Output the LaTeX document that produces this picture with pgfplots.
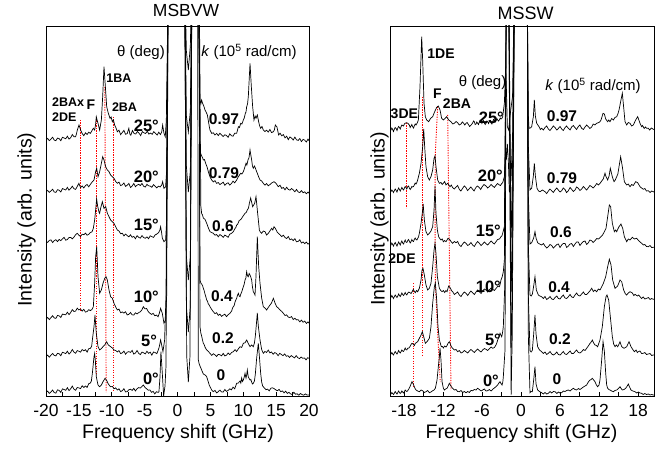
\documentclass[border=0pt]{standalone}
\usepackage{fontspec}
\setmainfont{Liberation Sans}
\usepackage{pgfplots}
\pgfplotsset{compat=1.18}
\newcommand{\fs}[1]{\fontsize{#1}{#1}\selectfont}
\begin{document}
\begin{tikzpicture}[x=1pt,y=1pt]
\useasboundingbox (0,0) rectangle (668,450);
\tikzset{
  ang/.style={anchor=east, inner sep=0pt, font=\bfseries\fs{16.5}},
  kv/.style={inner sep=0pt, font=\bfseries\fs{15.5}},
  md/.style={inner sep=0pt, font=\bfseries\fs{12.5}},
  mdr/.style={inner sep=0pt, font=\bfseries\fs{14}},
}
\pgfplotsset{
  spec/.style={black, line width=0.7pt, no marks},
  rl/.style={color={rgb,1:red,1;green,0;blue,0}, line width=0.9pt, dash pattern=on 1.2pt off 1.3pt, no marks},
  common/.style={
    scale only axis, width=263pt, height=370pt, anchor=south west,
    ymin=0, ymax=370, ytick=\empty,
    xtick pos=left, tick align=inside,
    minor x tick num=1,
    major tick length=4pt, minor tick length=4pt,
    tick style={black, line width=0.6pt},
    axis line style={line width=0.8pt},
    xticklabel style={font=\fs{17.5}},
    xticklabel shift=5pt,
    clip mode=individual,
  }
}
% ================= LEFT PANEL: MSBVW =================
\begin{axis}[common, at={(46pt,54pt)},
  xmin=-20, xmax=20,
  xtick={-20,-15,-10,-5,0,5,10,15,20},
  xticklabels={-20,-15,-10,-5,0,5,10,15,20}]
\addplot[rl] coordinates {(-14.83,276) (-14.83,84)};
\addplot[rl] coordinates {(-12.35,278) (-12.35,21)};
\addplot[rl] coordinates {(-11.05,309) (-10.85,4)};
\addplot[rl] coordinates {(-9.76,279) (-9.76,6)};
% 25 deg
\addplot[spec] coordinates {(-20,256) (-19.75,257.6) (-19.5,255.3) (-19.25,256.9) (-19,258.8) (-18.75,255.9) (-18.5,255.3) (-18.25,257.9) (-18,257.4) (-17.75,255.3) (-17.5,258.7) (-17.25,258) (-17,257.2) (-16.75,259.8) (-16.5,256.9) (-16.25,258.3) (-16,261.5) (-15.75,259.3) (-15.5,259.2) (-15.35,262.5) (-15.24,266) (-14.98,271) (-14.73,266) (-14.5,262.5) (-14.25,260.3) (-14,263.2) (-13.75,261.5) (-13.5,263.8) (-13.25,262.6) (-13,265.5) (-12.8,267.7) (-12.6,266) (-12.45,272) (-12.35,279.3) (-12.19,275) (-12.09,272.7) (-11.84,266) (-11.58,276) (-11.38,299.3) (-11.18,329.3) (-10.97,309.3) (-10.77,289.3) (-10.52,282.7) (-10.26,277.7) (-10.1,279) (-9.91,274.3) (-9.75,276) (-9.56,271) (-9.35,268) (-9.15,264.3) (-8.9,265.8) (-8.65,261.4) (-8.4,263.5) (-8.15,265.6) (-7.9,261.7) (-7.65,262.4) (-7.4,267.7) (-7.25,262) (-7.1,260.8) (-6.85,265.5) (-6.6,262.4) (-6.35,262) (-6.1,264.6) (-5.85,262.8) (-5.6,260.4) (-5.35,264.4) (-5.1,263.2) (-4.85,262.5) (-4.6,264.8) (-4.35,261.9) (-4.1,262.9) (-3.85,261.7) (-3.6,264.4) (-3.35,262.6) (-3.1,260.9) (-2.85,263.8) (-2.6,261.5) (-2.4,264) (-2.26,271) (-2.06,262.7) (-1.86,259.3) (-1.7,276) (-1.4,420) (1.1,420) (1.35,345) (1.65,326) (1.95,350) (2.2,420) (3.15,420) (3.42,296) (3.55,292) (3.67,296) (3.8,293) (3.93,291) (4.05,289) (4.18,286) (4.35,284) (4.54,281) (4.7,275) (4.82,270) (4.94,266) (5.2,262.6) (5.45,263.2) (5.7,261) (5.95,262.6) (6.2,260.4) (6.45,262.8) (6.7,261.1) (6.95,259.5) (7.2,261.3) (7.45,260.5) (7.7,258.6) (7.95,262.2) (8.2,260.3) (8.45,259.8) (8.7,262.8) (9,262.7) (9.13,266) (9.26,269.3) (9.43,268.5) (9.61,272.7) (9.8,272) (10.01,276) (10.15,278) (10.32,282.7) (10.42,284) (10.52,289.3) (10.65,292) (10.77,299.3) (11.03,332.7) (11.23,309.3) (11.43,289.3) (11.63,276) (11.8,280) (11.94,277.7) (12.14,281) (12.34,274.3) (12.5,270) (12.65,267.7) (12.85,269.5) (13.05,266) (13.3,264.5) (13.55,265.8) (13.8,263.9) (14.05,266.5) (14.3,263.4) (14.58,264.3) (14.73,266) (14.88,271) (15.13,269) (15.38,261) (15.6,262.8) (15.85,260.2) (16.1,261.4) (16.35,258.1) (16.6,259.8) (16.85,256.4) (17.1,259.1) (17.35,257.8) (17.6,256) (17.85,258.9) (18.1,256.2) (18.35,255.6) (18.6,257.4) (18.85,254.4) (19.1,256.6) (19.35,255.8) (19.6,254) (19.85,256.9) (20,255.3)};
% 20 deg
\addplot[spec] coordinates {(-20,204.3) (-19.75,205.6) (-19.5,203.6) (-19.25,205.1) (-19,206.8) (-18.75,204) (-18.5,203.6) (-18.25,206.3) (-18,205.8) (-17.75,204) (-17.5,207.4) (-17.25,206.8) (-17,206) (-16.75,208.6) (-16.5,205.8) (-16.25,207.5) (-16,209.8) (-15.75,207.3) (-15.5,206.6) (-15.25,209.5) (-15,212.7) (-14.75,208.4) (-14.5,210.1) (-14.25,208) (-14,210.4) (-13.75,211.5) (-13.5,209.2) (-13.25,211.6) (-13,213.8) (-12.7,216) (-12.45,224.3) (-12.29,227.7) (-12.09,219.3) (-11.84,224.3) (-11.58,232.7) (-11.38,239.3) (-11.18,236) (-10.92,229.3) (-10.67,226) (-10.42,224.3) (-10.17,221) (-9.91,219.3) (-9.66,217.7) (-9.4,214.5) (-9.15,212.7) (-8.9,213.9) (-8.65,210.4) (-8.4,211.2) (-8.15,213) (-7.9,209.6) (-7.65,210.8) (-7.4,212.6) (-7.15,208.5) (-6.9,209.9) (-6.65,212.5) (-6.4,209.3) (-6.15,210.8) (-5.9,211.7) (-5.65,210.4) (-5.4,212.6) (-5.15,209.7) (-4.9,208.9) (-4.65,211.7) (-4.4,210.2) (-4.15,209.9) (-3.9,208.7) (-3.65,211.4) (-3.4,209.6) (-3.15,208.1) (-2.9,209.8) (-2.65,209) (-2.4,211) (-2.26,214.3) (-2.06,207.7) (-1.81,209.3) (-1.65,225) (-1.4,420) (1.1,420) (1.35,280) (1.65,264) (1.95,285) (2.2,420) (3.15,420) (3.42,246) (3.55,242) (3.67,240) (3.8,238.5) (3.93,236) (4.1,236.5) (4.28,232.7) (4.5,229) (4.69,224.3) (4.95,219) (5.2,216) (5.45,214.1) (5.7,215.3) (5.95,212.6) (6.2,213.5) (6.45,211.4) (6.7,212.6) (6.95,213.8) (7.2,210.7) (7.45,212.4) (7.7,213.2) (7.95,210.9) (8.2,212.4) (8.45,214.9) (8.7,213.2) (9,216) (9.26,219.3) (9.43,221) (9.61,222.7) (9.8,222) (10.01,224.3) (10.2,228) (10.42,232.7) (10.55,231) (10.72,236) (10.87,238) (11.03,246) (11.15,241) (11.28,236) (11.4,230) (11.53,227.7) (11.7,230) (11.84,228) (12,225) (12.14,222.7) (12.35,219) (12.55,216) (12.8,215) (13.05,212.7) (13.3,210.9) (13.55,212.4) (13.8,210.2) (14.07,211.5) (14.35,213.1) (14.68,214.3) (14.98,212.7) (15.33,209.3) (15.6,210.8) (15.85,207.6) (16.1,208.5) (16.35,206.2) (16.6,208.8) (16.85,206.6) (17.1,205.9) (17.35,207.5) (17.6,206.1) (17.85,204.2) (18.1,206.6) (18.35,204.1) (18.6,203.4) (18.85,205.4) (19.1,203.3) (19.35,204.1) (19.6,202.3) (19.85,204) (20,202.7)};
% 15 deg
\addplot[spec] coordinates {(-20,154.3) (-19.75,153.6) (-19.5,155.6) (-19.25,156.1) (-19,153.5) (-18.75,155.3) (-18.5,156.3) (-18.25,154.4) (-18,156.6) (-17.75,155.3) (-17.5,157.2) (-17.25,158.6) (-17,155.8) (-16.75,156.5) (-16.5,158.5) (-16.25,158.6) (-16,157.1) (-15.75,158.9) (-15.5,161.3) (-15.25,162.7) (-15,160.8) (-14.75,159.5) (-14.5,161.8) (-14.25,161.3) (-14,162.9) (-13.75,160.8) (-13.5,161.7) (-13.25,163.5) (-13,164.2) (-12.8,167.7) (-12.6,176) (-12.45,186) (-12.3,197) (-12.15,190) (-11.94,184) (-11.84,182.7) (-11.68,188) (-11.43,194.3) (-11.18,187.7) (-10.92,189.3) (-10.67,182.7) (-10.42,179.3) (-10.17,176) (-9.91,174.3) (-9.66,172.7) (-9.4,169.3) (-9.15,166) (-8.9,165) (-8.65,162.2) (-8.4,162.8) (-8.15,160.1) (-7.9,161.9) (-7.65,160.4) (-7.4,159.2) (-7.15,161.2) (-6.9,158.7) (-6.65,159.6) (-6.4,157.3) (-6.15,160.3) (-5.9,158.6) (-5.65,157.9) (-5.4,160.4) (-5.15,158.5) (-4.9,157.7) (-4.65,159.1) (-4.4,157.3) (-4.15,160.2) (-3.9,159.4) (-3.65,158.6) (-3.4,161.1) (-3.15,161.9) (-2.9,163.2) (-2.7,165.5) (-2.57,169.3) (-2.41,163) (-2.31,158) (-2.06,154.3) (-1.81,156) (-1.65,175) (-1.4,420) (1.1,420) (1.35,230) (1.65,204) (1.95,225) (2.2,420) (3.3,420) (3.55,190) (3.67,182.7) (3.8,181) (3.93,178) (4.2,176.5) (4.44,172.7) (4.7,168) (4.94,164.3) (5.2,163.5) (5.45,162.7) (5.7,160.8) (5.95,161.5) (6.2,159.2) (6.45,161.4) (6.7,160.3) (6.95,158.6) (7.2,160.9) (7.45,159.9) (7.7,158.7) (7.95,161.8) (8.2,162.6) (8.49,164.3) (8.62,166) (8.75,167.5) (8.87,168.5) (9,171) (9.13,171.5) (9.26,173.5) (9.38,175.5) (9.51,176) (9.7,177) (9.91,179.3) (10.1,181) (10.27,182.7) (10.45,183.5) (10.62,186) (10.8,188) (10.93,192.7) (11.13,198) (11.43,189.3) (11.74,192.7) (11.94,199.3) (12.19,182.7) (12.45,166) (12.6,164) (12.8,162.7) (13.05,165) (13.31,164.3) (13.55,161) (13.81,162.7) (14.05,165) (14.32,167.7) (14.5,166) (14.68,169.3) (14.83,168) (14.98,166.5) (15.15,164) (15.33,162.7) (15.6,161.2) (15.85,159.4) (16.1,160.8) (16.35,158.5) (16.6,157.5) (16.85,159.4) (17.1,156.3) (17.35,157.1) (17.6,155.4) (17.85,157.3) (18.1,154.2) (18.35,154.6) (18.6,156.3) (18.85,153) (19.1,154.1) (19.35,152.4) (19.6,153.9) (19.85,151.8) (20,152.7)};
% 10 deg
\addplot[spec] coordinates {(-20,76.7) (-19.75,78.5) (-19.5,76.4) (-19.25,78.3) (-19,80.3) (-18.75,78.1) (-18.5,77.6) (-18.25,80.6) (-18,80.1) (-17.75,78.5) (-17.5,81.9) (-17.25,81.5) (-17,81.2) (-16.75,83.8) (-16.5,81.4) (-16.25,83.4) (-16,86.4) (-15.75,84.5) (-15.5,84.9) (-15.25,87.8) (-15,86.1) (-14.75,86.9) (-14.5,84.9) (-14.25,86.6) (-14,83.9) (-13.75,84.5) (-13.5,86.3) (-13.25,85.4) (-13,86.6) (-12.8,89.3) (-12.6,112.7) (-12.45,139.3) (-12.29,149.3) (-12.09,119.3) (-11.84,102.7) (-11.58,106) (-11.33,112.7) (-11.07,117.7) (-10.87,119.3) (-10.67,116) (-10.42,106) (-10.17,99.3) (-9.91,97.7) (-9.66,92.7) (-9.4,89) (-9.15,86) (-8.9,86.9) (-8.65,83.3) (-8.4,84.1) (-8.15,82.9) (-7.9,84.3) (-7.65,81.1) (-7.4,81.6) (-7.15,83.5) (-6.9,81.2) (-6.65,80.9) (-6.4,83.2) (-6.15,82.1) (-5.9,83.4) (-5.65,84.2) (-5.4,86.3) (-5.2,89.3) (-4.95,87.2) (-4.7,87.5) (-4.45,84.5) (-4.2,82.8) (-3.95,81.6) (-3.7,82.6) (-3.45,80.2) (-3.2,80.9) (-2.95,79.3) (-2.75,83) (-2.57,87.7) (-2.31,82.7) (-2.06,72.7) (-1.81,76) (-1.65,100) (-1.4,420) (1.1,420) (1.35,140) (1.65,116) (1.95,140) (2.2,420) (3.3,420) (3.42,116) (3.55,113) (3.67,112) (3.8,110.5) (3.93,107.7) (4.05,105.5) (4.18,102) (4.3,99.5) (4.44,96) (4.55,95) (4.69,92) (4.82,91) (4.94,89.3) (5.2,86.5) (5.45,84.3) (5.7,82.4) (5.95,83.3) (6.2,80.6) (6.45,81.8) (6.7,79.6) (6.95,80.9) (7.2,81.8) (7.45,79.4) (7.7,81.3) (7.95,82.5) (8.24,85) (8.37,88) (8.49,89.3) (8.62,90.5) (8.75,94) (8.87,96) (9,97.7) (9.13,101) (9.26,102.7) (9.38,100) (9.51,99.3) (9.63,102) (9.76,104) (9.88,106.5) (10.01,109.3) (10.15,112) (10.27,116) (10.4,118) (10.52,124.3) (10.65,120) (10.77,119.3) (10.9,122.5) (11.03,121) (11.15,119) (11.28,116) (11.4,109) (11.53,104.3) (11.65,103) (11.79,101) (11.94,120) (12.14,159.3) (12.34,130) (12.55,112.7) (12.8,98) (13.05,89.3) (13.3,88) (13.56,86) (13.8,88.5) (14.07,91) (14.3,93) (14.58,97.7) (14.83,93) (15.08,89.3) (15.33,88) (15.59,86) (15.85,84.6) (16.1,82.7) (16.35,80.5) (16.6,81.1) (16.85,78.9) (17.1,78.5) (17.35,79.4) (17.6,76.5) (17.85,77.7) (18.1,76.1) (18.35,76.3) (18.6,74.2) (18.85,75.9) (19.1,73.8) (19.35,74.9) (19.6,72.6) (19.85,74.2) (20,72.7)};
% 5 deg
\addplot[spec] coordinates {(-20,39.3) (-19.75,40.9) (-19.5,38.8) (-19.25,40.8) (-19,42.5) (-18.75,40.7) (-18.5,40.1) (-18.25,42.7) (-18,42.2) (-17.75,40.3) (-17.5,43.7) (-17.25,43.1) (-17,42.4) (-16.75,44.8) (-16.5,42) (-16.25,43.6) (-16,46.5) (-15.75,43.9) (-15.5,42.7) (-15.25,45.4) (-15,44.8) (-14.75,43.8) (-14.5,46.5) (-14.25,45.2) (-14,46.3) (-13.75,43.9) (-13.5,47.3) (-13.25,47.6) (-13.05,50) (-12.95,56) (-12.7,69.3) (-12.55,81) (-12.35,62.7) (-12.09,49.3) (-11.84,46) (-11.58,47.5) (-11.33,49.3) (-11.07,51) (-10.77,54.3) (-10.52,51) (-10.17,49.3) (-9.9,48) (-9.66,46) (-9.4,45.5) (-9.15,44.1) (-8.9,45.4) (-8.65,42.4) (-8.4,43.1) (-8.15,44.9) (-7.9,41.8) (-7.65,43.8) (-7.4,44.4) (-7.15,43.6) (-6.9,45.6) (-6.65,41.9) (-6.4,42.9) (-6.15,45.5) (-5.9,42.6) (-5.65,41.4) (-5.4,43.9) (-5.15,43.2) (-4.9,42.1) (-4.65,44.7) (-4.4,42.7) (-4.15,43.8) (-3.9,40.8) (-3.65,44) (-3.4,43.5) (-3.15,42.3) (-2.95,45.5) (-2.77,49.3) (-2.57,56) (-2.46,52.7) (-2.21,44.3) (-1.96,56) (-1.75,100) (-1.45,420) (1.1,420) (1.35,90) (1.65,64) (1.95,90) (2.2,420) (3.25,420) (3.42,69.3) (3.55,63) (3.67,60) (3.8,56) (3.93,52.7) (4.05,51.5) (4.18,49) (4.3,47.5) (4.44,46) (4.57,45.5) (4.69,44.5) (4.94,42.7) (5.2,40.6) (5.45,42.3) (5.7,41.1) (5.95,39.5) (6.2,41.7) (6.45,41.2) (6.7,40.2) (6.95,42.6) (7.2,40.1) (7.45,40.8) (7.7,43) (7.95,41.4) (8.24,43.5) (8.49,44.3) (8.75,46.3) (9,44.5) (9.26,47.2) (9.51,49.3) (9.76,48.6) (10.01,52.7) (10.27,53.2) (10.52,56) (10.77,52.5) (11.03,49.3) (11.28,51) (11.53,49.3) (11.7,53) (11.84,60) (12.04,75) (12.14,83) (12.29,70) (12.55,56) (12.8,46.5) (13.05,42.7) (13.3,44.5) (13.55,43.6) (13.8,45.9) (14.05,43.2) (14.3,44) (14.55,41.7) (14.8,43.4) (15.05,42.6) (15.3,40.3) (15.55,42.6) (15.8,41.5) (16.05,40.3) (16.3,42.1) (16.55,39.7) (16.8,40.3) (17.05,38.6) (17.3,40.5) (17.55,39.2) (17.8,38.1) (18.05,40.4) (18.3,38.3) (18.55,37.4) (18.8,39) (19.05,37.7) (19.3,38.1) (19.55,36.1) (19.8,38.3) (20,37.7)};
% 0 deg
\addplot[spec] coordinates {(-20,3.3) (-19.75,4.9) (-19.5,2.6) (-19.25,4) (-19,6) (-18.75,3.4) (-18.5,2.9) (-18.25,6.2) (-18,5.6) (-17.75,3.6) (-17.5,7.1) (-17.25,6.5) (-17,5.7) (-16.75,8.3) (-16.5,5.4) (-16.25,7.2) (-16,9.9) (-15.75,6.8) (-15.5,5.7) (-15.25,8.5) (-15,8.1) (-14.75,7.4) (-14.5,10.2) (-14.25,8.5) (-14,10) (-13.75,8.6) (-13.5,12.3) (-13.25,13) (-13.1,15) (-12.95,22.7) (-12.7,39.3) (-12.6,42.7) (-12.5,36) (-12.35,19.3) (-12.09,11) (-11.84,9.3) (-11.58,11) (-11.33,14.3) (-11.02,17.7) (-10.77,15.5) (-10.52,12) (-10.35,10.5) (-10.17,9.3) (-9.9,9.5) (-9.65,7.2) (-9.4,8.1) (-9.15,6) (-8.9,7.2) (-8.65,4.4) (-8.4,5.3) (-8.15,7.3) (-7.9,4.1) (-7.65,4.4) (-7.4,6.2) (-7.15,6.8) (-6.9,5.6) (-6.65,7.6) (-6.4,5.1) (-6.15,7.3) (-5.9,8.4) (-5.65,7.9) (-5.4,9.5) (-5.2,11) (-4.95,8.7) (-4.7,7.2) (-4.45,5.8) (-4.2,6.1) (-3.95,3.7) (-3.7,4.6) (-3.45,2.1) (-3.2,4.3) (-2.95,3.6) (-2.82,4.3) (-2.66,19.3) (-2.52,44.3) (-2.31,22.7) (-2.11,0) (-1.9,10) (-1.75,30) (-1.45,420) (1.1,420) (1.4,40) (1.65,14) (1.9,40) (2.15,420) (3.05,420) (3.17,36) (3.3,32) (3.42,30) (3.55,28) (3.67,26) (3.8,24) (3.93,22) (4.2,21) (4.44,19.3) (4.57,16.5) (4.69,14) (4.82,11) (4.94,9.3) (5.2,6) (5.45,4.4) (5.7,5.6) (5.95,3.1) (6.2,4.3) (6.45,5.9) (6.7,4.1) (6.95,3.9) (7.2,6.5) (7.45,4.6) (7.7,5.6) (7.95,7.2) (8.2,6.2) (8.45,8.9) (8.7,7.2) (9,12.7) (9.25,13) (9.51,15) (9.63,13) (9.76,18) (9.88,14.5) (10.01,16) (10.15,19) (10.27,22.7) (10.35,20) (10.42,18) (10.52,21) (10.62,26) (10.7,22) (10.77,19) (10.9,17.5) (11.03,16) (11.15,16.5) (11.28,14) (11.4,12) (11.53,12.7) (11.7,15) (11.84,22) (12.04,38) (12.29,52.7) (12.45,40) (12.65,22.7) (12.8,14) (12.95,10) (13.2,8.1) (13.45,6.3) (13.7,6.9) (13.95,5.2) (14.2,7.8) (14.45,8.2) (14.7,7.4) (14.95,6.1) (15.2,5.3) (15.45,6.6) (15.7,4.3) (15.95,5.1) (16.2,3.2) (16.45,4.8) (16.7,2.6) (16.95,3.7) (17.2,2.1) (17.45,1.5) (17.7,3.7) (17.95,1.8) (18.2,2.2) (18.45,0.8) (18.7,2.5) (18.95,1.4) (19.2,0.8) (19.45,2.1) (19.7,0.9) (20,1)};
\node[inner sep=0pt, font=\fs{15}] at (axis cs:-5.55,343) {θ (deg)};
\node[inner sep=0pt, font=\fs{15}] at (axis cs:10.87,344) {\textit{k} (10\textsuperscript{5} rad/cm)};
\node[ang] at (axis cs:-2.81,270) {25°};
\node[ang] at (axis cs:-2.81,219) {20°};
\node[ang] at (axis cs:-2.81,171) {15°};
\node[ang] at (axis cs:-2.81,99) {10°};
\node[ang] at (axis cs:-3.11,55.3) {5°};
\node[ang] at (axis cs:-2.81,17) {0°};
\node[kv] at (axis cs:7.07,277) {0.97};
\node[kv] at (axis cs:7.07,223) {0.79};
\node[kv] at (axis cs:6.92,170) {0.6};
\node[kv] at (axis cs:6.77,100) {0.4};
\node[kv] at (axis cs:6.92,58) {0.2};
\node[kv] at (axis cs:6.6,21) {0};
\node[md, anchor=west] at (axis cs:-19.09,294) {2BAx};
\node[md, anchor=west] at (axis cs:-19.09,279) {2DE};
\node[md, font=\bfseries\fs{14}] at (axis cs:-13.16,291) {F};
\node[md] at (axis cs:-8.9,318) {1BA};
\node[md] at (axis cs:-8.06,289) {2BA};
\end{axis}
% ================= RIGHT PANEL: MSSW =================
\begin{axis}[common, at={(390pt,54pt)}, width=264pt,
  xmin=-20.154, xmax=20.462,
  xtick={-18,-12,-6,0,6,12,18},
  xticklabels={-18,-12,-6,0,6,12,18}]
\addplot[rl] coordinates {(-17.58,273) (-17.58,188)};
\addplot[rl] coordinates {(-15.23,299) (-15.23,41)};
\addplot[rl] coordinates {(-12.82,289.3) (-13.18,243) (-13.23,196) (-13.18,113) (-12.82,63) (-12.42,14)};
\addplot[rl] coordinates {(-11.28,281) (-11.03,146) (-10.77,6)};
\addplot[rl] coordinates {(-16.57,113) (-16.57,10)};
% 25 deg
\addplot[spec] coordinates {(-20.2,266) (-20,266) (-19.87,268) (-19.75,266.5) (-19.62,264.5) (-19.49,266.7) (-19.35,268.5) (-19.2,267.5) (-19.08,265.5) (-18.97,267.7) (-18.83,269.5) (-18.7,268.5) (-18.58,267) (-18.46,269.3) (-18.33,271) (-18.2,270.5) (-18.07,270) (-17.95,272) (-17.77,273) (-17.59,273.3) (-17.38,272.5) (-17.18,271) (-17.05,268.5) (-16.92,270) (-16.8,271.5) (-16.67,269.3) (-16.53,268) (-16.4,270.5) (-16.27,272) (-16.15,271) (-15.97,273) (-15.79,276) (-15.54,309.3) (-15.33,349.3) (-15.28,359.3) (-15.13,336) (-14.92,292.7) (-14.72,279.3) (-14.51,276) (-14.21,274.3) (-13.9,277.7) (-13.59,279.3) (-13.28,284.3) (-12.97,288.7) (-12.72,290) (-12.46,286) (-12.21,277.7) (-11.95,276) (-11.69,277.5) (-11.44,279.3) (-11.13,276) (-10.77,274.3) (-10.5,272) (-10.26,272.7) (-10,274.5) (-9.74,273.3) (-9.5,271) (-9.23,272) (-9.03,274) (-8.85,273) (-8.65,271) (-8.46,272.7) (-8.28,273.5) (-8.1,271.5) (-7.9,269.5) (-7.69,271) (-7.55,272) (-7.44,273) (-7.3,275) (-7.18,274.3) (-7.05,271.5) (-6.92,272) (-6.8,274) (-6.67,272.7) (-6.54,271.5) (-6.41,274) (-6.28,276) (-6.15,275) (-6.02,272.5) (-5.9,274.3) (-5.77,275.5) (-5.64,273) (-5.51,271.5) (-5.38,272.7) (-5.25,275) (-5.13,274.5) (-5,272.5) (-4.87,274.3) (-4.73,275.5) (-4.6,273) (-4.48,272) (-4.36,274.3) (-4.23,276.5) (-4.1,275.5) (-3.97,274) (-3.85,275.3) (-3.72,277.5) (-3.59,276) (-3.46,275) (-3.33,276) (-3.2,278) (-3.08,277) (-2.95,277.5) (-2.82,279.3) (-2.56,292.7) (-2.36,329.3) (-2.26,310) (-2.1,269.3) (-1.9,266) (-1.69,280) (-1.3,300) (-1,420) (0.95,420) (1.13,280) (1.23,267.7) (1.44,268) (1.64,269.3) (1.9,279.3) (2.05,296) (2.21,280) (2.41,272.7) (2.6,271) (2.77,269.3) (2.98,266.5) (3.18,267.7) (3.44,266) (3.69,268.5) (3.95,270) (4.21,267) (4.46,265.5) (4.72,267.7) (4.97,270) (5.23,268.5) (5.5,266) (5.74,267.5) (6,269.5) (6.26,267) (6.5,265.5) (6.77,268.3) (7,270) (7.28,267.7) (7.55,266) (7.79,269) (8.05,270.5) (8.31,268.3) (8.55,266.5) (8.82,269.5) (9.07,271) (9.33,267.7) (9.6,266.5) (9.85,269) (10.1,271) (10.36,269.3) (10.6,267.5) (10.87,269) (11.1,272) (11.38,271) (11.64,272.7) (11.9,273.3) (12.1,274) (12.31,276) (12.62,282.7) (12.82,282) (13.03,277) (13.2,275.5) (13.33,274.3) (13.5,276) (13.69,274.3) (13.95,277.5) (14.21,276) (14.45,278.5) (14.72,279.3) (14.9,282) (15.08,286) (15.38,296) (15.59,302.7) (15.79,289) (16,274.3) (16.26,271) (16.5,273.5) (16.77,272.7) (17.02,270) (17.28,271) (17.64,276) (17.95,279.3) (18.31,272.7) (18.56,269.3) (18.7,270.5) (18.95,267.5) (19.15,269) (19.33,267.7) (19.59,267.7) (19.8,266) (20.05,268) (20.36,266.7) (20.46,266.5)};
% 20 deg
\addplot[spec] coordinates {(-20.2,204.3) (-20,204.3) (-19.87,206) (-19.75,205) (-19.62,203.5) (-19.49,205.3) (-19.35,207) (-19.2,205.5) (-19.08,204) (-18.97,206) (-18.83,208) (-18.7,206.5) (-18.58,205) (-18.46,206.7) (-18.33,208.5) (-18.2,207) (-18.07,206) (-17.95,207.7) (-17.82,209.5) (-17.7,208.5) (-17.57,207) (-17.44,209.3) (-17.3,210) (-17.18,208) (-17.05,206.5) (-16.92,207.7) (-16.8,209.5) (-16.67,209) (-16.54,209.5) (-16.41,211) (-16.28,213) (-16.15,212) (-16.02,213.5) (-15.9,216) (-15.64,222.7) (-15.38,232.7) (-15.13,249.3) (-14.97,267) (-14.82,249.3) (-14.62,229.3) (-14.36,219.3) (-14.1,216) (-13.85,219.3) (-13.59,226) (-13.38,237.7) (-13.23,240) (-13.08,229.3) (-12.82,216) (-12.56,212.7) (-12.31,213.5) (-12.12,211.5) (-11.95,212.7) (-11.75,214.5) (-11.54,211) (-11.28,212.7) (-11.1,211) (-10.92,209.3) (-10.72,211) (-10.51,208.3) (-10.25,207) (-10,209) (-9.75,210.5) (-9.49,206.7) (-9.25,205) (-9,207.5) (-8.73,210) (-8.46,208.3) (-8.23,205.5) (-8,207) (-7.72,209) (-7.44,206.7) (-7.22,205) (-7,208) (-6.7,210) (-6.41,208.3) (-6.2,206.5) (-6,209) (-5.7,211.5) (-5.38,210) (-5.13,208) (-4.87,209.5) (-4.6,211.5) (-4.36,210) (-4.1,208.5) (-3.85,210.7) (-3.6,212.5) (-3.33,211) (-3.15,210.5) (-2.97,212.5) (-2.82,213.3) (-2.56,219.3) (-2.46,236) (-2.36,248) (-2.26,236) (-2.1,252) (-1.95,235) (-1.79,204) (-1.54,216) (-1.3,260) (-1,420) (0.95,420) (1.13,250) (1.38,206) (1.64,207.7) (1.9,220) (2.05,232.7) (2.21,220) (2.46,207.7) (2.7,205) (2.92,204.3) (3.3,206) (3.69,204.3) (3.95,202.5) (4.21,205) (4.46,207) (4.72,205.3) (4.97,203.5) (5.23,206) (5.5,208) (5.74,206) (6,204) (6.26,205.3) (6.5,208) (6.77,206.5) (7,203.5) (7.28,205.3) (7.55,208.5) (7.79,206.7) (8.05,204.5) (8.31,206) (8.55,209) (8.82,207.7) (9.07,205.5) (9.33,207) (9.6,209.5) (9.85,207.7) (10.1,206) (10.36,208.3) (10.6,210.5) (10.87,209.3) (11.1,208) (11.38,210) (11.65,212.5) (11.9,211) (12.15,212.5) (12.41,215) (12.65,217) (12.92,222.7) (13.1,219) (13.33,216) (13.55,220) (13.74,227.7) (14.05,219.3) (14.31,214.3) (14.5,216) (14.72,219.3) (14.9,222) (15.08,229.3) (15.33,239.3) (15.59,229.3) (15.9,214.3) (16.26,211) (16.5,212) (16.77,209.3) (17.02,211.5) (17.28,210.5) (17.64,214.3) (17.95,213.3) (18.31,209.3) (18.55,208) (18.82,206.7) (19.05,207.5) (19.3,205) (19.59,205.3) (19.85,203.5) (20.1,205) (20.36,204.3) (20.46,204)};
% 15 deg
\addplot[spec] coordinates {(-20.2,151) (-20,151) (-19.87,153) (-19.75,151.5) (-19.62,150) (-19.49,152) (-19.35,153.5) (-19.2,151.5) (-19.08,150) (-18.97,151.7) (-18.83,154) (-18.7,152.5) (-18.58,151) (-18.46,153.3) (-18.33,155) (-18.2,153) (-18.07,152) (-17.95,154.3) (-17.82,156) (-17.7,154) (-17.57,153.5) (-17.44,155.3) (-17.3,156.5) (-17.18,155) (-17.05,153) (-16.92,154.3) (-16.8,156.5) (-16.67,155) (-16.54,154.5) (-16.41,156.7) (-16.28,158) (-16.15,156.5) (-16.02,156) (-15.9,157.5) (-15.77,159) (-15.64,162.7) (-15.38,172.7) (-15.13,186) (-15.05,192) (-14.87,176) (-14.62,164.3) (-14.36,161) (-14.1,162.7) (-13.85,165) (-13.59,169.3) (-13.38,186) (-13.23,210) (-13.08,182.7) (-12.87,166) (-12.67,159.3) (-12.5,157.5) (-12.31,156) (-12.12,157) (-11.95,154.3) (-11.75,155.5) (-11.54,154.3) (-11.38,156) (-11.23,157.7) (-11.08,157) (-10.92,156) (-10.72,154) (-10.51,152.7) (-10.25,154.5) (-10,153.3) (-9.75,154.5) (-9.49,151) (-9.23,149.5) (-8.98,152) (-8.72,154) (-8.46,152.7) (-8.2,150.5) (-7.95,151.5) (-7.7,153.5) (-7.44,151) (-7.18,149.5) (-6.92,152.5) (-6.67,154.5) (-6.41,152.7) (-6.15,150.5) (-5.9,152) (-5.64,154) (-5.38,152.3) (-5.13,151) (-4.87,153) (-4.6,155) (-4.36,153.3) (-4.1,152) (-3.85,154.3) (-3.6,156.5) (-3.33,157) (-3.2,158) (-3.08,159.3) (-2.95,160) (-2.82,162.7) (-2.56,169.3) (-2.25,420) (-1.9,420) (-1.52,158) (-1.35,200) (-1,420) (0.95,420) (1.13,200) (1.38,152) (1.64,153.3) (1.95,158) (2.15,164.3) (2.31,158) (2.56,153.3) (2.85,152) (3.18,151) (3.44,152.5) (3.69,150) (3.95,148) (4.21,149.3) (4.46,151.5) (4.72,150.5) (4.97,148) (5.23,149.7) (5.5,151.5) (5.75,152) (6,148.5) (6.26,151) (6.5,152.5) (6.77,152.5) (7.03,148.5) (7.28,150) (7.55,152) (7.8,152.5) (8.05,149.5) (8.31,152) (8.55,154) (8.82,154) (9.07,150.5) (9.33,152.7) (9.6,154.5) (9.85,155) (10.1,151.5) (10.36,153.3) (10.6,156) (10.87,155.3) (11.1,153.5) (11.38,155.3) (11.65,157.5) (11.9,157) (12.1,158) (12.31,159.3) (12.55,161) (12.82,164.3) (13.08,167.7) (13.33,179.3) (13.59,191) (13.79,189.3) (14.05,172.7) (14.36,164.3) (14.55,166) (14.72,164.3) (14.9,167) (15.08,169.3) (15.38,172) (15.64,167.7) (15.9,159.3) (16.26,154.3) (16.5,157) (16.77,156) (17.13,158.7) (17.44,157) (17.79,157.7) (18.15,155) (18.5,153) (18.82,151) (19.05,151.5) (19.3,149.5) (19.59,149.3) (19.85,150.5) (20.1,148.5) (20.36,148.7) (20.46,148.7)};
% 10 deg
\addplot[spec] coordinates {(-20.2,98.7) (-20,98.7) (-19.87,100.5) (-19.75,99) (-19.62,97.5) (-19.49,99.3) (-19.35,101) (-19.2,99.5) (-19.08,98.5) (-18.97,99.7) (-18.83,102) (-18.7,100.5) (-18.58,99.5) (-18.46,101) (-18.33,103) (-18.2,101.5) (-18.07,100.5) (-17.95,101.7) (-17.82,103.5) (-17.7,102) (-17.57,101) (-17.44,102.7) (-17.26,104) (-17.08,103.3) (-16.92,102.5) (-16.77,104) (-16.56,106.7) (-16.4,104.5) (-16.26,103.3) (-16.08,105.5) (-15.9,104.3) (-15.77,106) (-15.64,107.7) (-15.38,116) (-15.23,126) (-15.08,127.7) (-14.87,121) (-14.62,111) (-14.36,106) (-14.1,107.7) (-13.85,112.7) (-13.59,129.3) (-13.38,146) (-13.23,152.7) (-13.08,142.7) (-12.87,119.3) (-12.56,107.7) (-12.35,105.5) (-12.15,104.3) (-11.95,105.5) (-11.74,103.5) (-11.55,105.5) (-11.38,104.3) (-11.13,110) (-10.87,108) (-10.7,105.5) (-10.51,104.3) (-10.25,101.5) (-10,102.7) (-9.75,104) (-9.49,101) (-9.23,99.5) (-8.98,102) (-8.72,104) (-8.46,102.7) (-8.2,100.5) (-7.95,103) (-7.7,105) (-7.44,103.3) (-7.18,101.5) (-6.92,104) (-6.67,106) (-6.41,104.3) (-6.15,102.5) (-5.9,105) (-5.64,107) (-5.38,106) (-5.13,104) (-4.87,106.3) (-4.6,108) (-4.36,106.7) (-4.1,105.5) (-3.85,107.5) (-3.6,109.5) (-3.33,109.3) (-3.2,112) (-3.08,116) (-2.9,119) (-2.72,124.3) (-2.56,136) (-2.25,420) (-1.9,420) (-1.52,104) (-1.35,150) (-1,420) (0.95,420) (1.13,150) (1.38,101) (1.55,100) (1.74,101.7) (1.95,110) (2.15,119.3) (2.36,106) (2.67,101) (2.9,100) (3.18,99.3) (3.44,97.5) (3.69,99.5) (3.95,96.5) (4.21,97.7) (4.46,99.5) (4.72,97) (4.97,96.5) (5.23,98.3) (5.5,100) (5.75,97.5) (6,97) (6.26,99.3) (6.5,101) (6.77,98) (7.03,97.5) (7.28,99.3) (7.55,101.5) (7.8,99) (8.05,98.5) (8.31,101) (8.55,103) (8.82,100.5) (9.07,100) (9.33,102) (9.6,104) (9.85,101.5) (10.1,101.5) (10.36,103.3) (10.6,105) (10.87,107.7) (11.13,104.5) (11.38,106) (11.64,104.3) (11.9,107) (12.15,106) (12.4,109) (12.67,112.7) (13.03,119.3) (13.33,129.3) (13.59,136.7) (13.85,131) (14.1,116) (14.46,107.7) (14.87,110) (15.23,116) (15.49,114.3) (15.79,106) (16.03,102.5) (16.26,101) (16.5,103) (16.77,104.3) (17.13,103) (17.35,100.5) (17.54,101.7) (17.9,100) (18.1,101) (18.31,99.3) (18.55,97.5) (18.8,99) (19.05,97) (19.33,97.7) (19.6,98.5) (19.85,96.5) (20.1,97.5) (20.36,96.7) (20.46,96.7)};
% 5 deg
\addplot[spec] coordinates {(-20.2,42) (-20,42) (-19.87,43.5) (-19.75,42) (-19.62,41) (-19.49,42.7) (-19.35,44.5) (-19.2,43) (-19.08,42) (-18.97,43.3) (-18.83,45.5) (-18.7,44) (-18.58,43) (-18.46,44.3) (-18.33,46) (-18.2,45) (-18.07,44.5) (-17.95,46) (-17.82,48) (-17.7,46.5) (-17.57,46) (-17.44,47.7) (-17.26,48) (-17.08,49.3) (-16.92,51.5) (-16.77,52.7) (-16.56,51.7) (-16.4,50.5) (-16.26,52.7) (-16.08,53.5) (-15.9,54.3) (-15.77,56) (-15.64,57.7) (-15.38,61) (-15.18,64.3) (-14.97,59.3) (-14.72,52.7) (-14.46,54.3) (-14.1,57.7) (-13.85,69.3) (-13.59,92.7) (-13.33,109.3) (-13.18,113) (-12.97,96) (-12.77,69.3) (-12.56,56) (-12.26,49.3) (-12.1,49.5) (-11.95,48) (-11.75,50) (-11.54,49) (-11.38,50.5) (-11.23,52.7) (-11.03,54.3) (-10.87,52) (-10.72,49.3) (-10.5,47.5) (-10.26,46) (-10,46.5) (-9.74,44.3) (-9.49,45.5) (-9.23,43) (-8.98,43.7) (-8.72,45.5) (-8.46,44.3) (-8.2,43) (-7.95,45) (-7.7,46.5) (-7.44,45) (-7.18,43.5) (-6.92,45.5) (-6.67,47) (-6.41,45.3) (-6.15,44) (-5.9,46) (-5.64,47.5) (-5.38,46.7) (-5.13,45.5) (-4.87,47.3) (-4.6,49) (-4.36,47.7) (-4.1,48.5) (-3.85,51) (-3.72,53) (-3.59,56) (-3.4,59) (-3.23,62.7) (-3.1,61) (-2.97,59.3) (-2.85,63) (-2.72,69.3) (-2.5,110) (-2.25,420) (-1.9,420) (-1.52,48) (-1.35,100) (-1,420) (0.95,420) (1.13,100) (1.38,45.5) (1.55,44) (1.74,45.5) (1.95,62) (2.15,81) (2.31,62) (2.56,49.3) (2.85,46) (3.18,44.3) (3.44,42.5) (3.69,44) (3.95,41.5) (4.21,42.7) (4.46,44.5) (4.72,42) (4.97,41) (5.23,42) (5.5,44) (5.75,41.5) (6,41) (6.26,42.7) (6.5,44.5) (6.77,42) (7.03,41.5) (7.28,43.3) (7.55,45) (7.8,42.5) (8.05,42.5) (8.31,44.3) (8.55,46) (8.82,43.5) (9.07,43) (9.33,44.3) (9.6,46.5) (9.85,45.5) (10.1,47.7) (10.35,50) (10.62,52.7) (10.8,54) (10.97,56) (11.18,53) (11.38,51) (11.6,50.5) (11.79,49.3) (12.15,56) (12.51,69.3) (12.82,89.3) (13.08,99.3) (13.23,101) (13.49,96) (13.74,79.3) (14.05,59.3) (14.25,52) (14.46,49.3) (14.66,51) (14.87,49.3) (15.05,51.5) (15.23,54.3) (15.49,49.3) (15.85,47.7) (16.05,48.5) (16.26,49.3) (16.45,52) (16.62,54.3) (16.92,49.3) (17.2,46.5) (17.44,44.3) (17.7,46) (17.9,43.5) (18.05,44.3) (18.3,45) (18.55,42.5) (18.82,42.7) (19.05,43.5) (19.3,41.5) (19.59,42) (19.85,42.5) (20.1,40.5) (20.36,41) (20.46,41)};
% 0 deg
\addplot[spec] coordinates {(-20.2,2) (-20,2) (-19.87,3.5) (-19.75,2.5) (-19.62,1.5) (-19.49,2.7) (-19.35,4.5) (-19.2,3) (-19.08,2) (-18.97,3.3) (-18.83,5) (-18.7,3.5) (-18.58,2.5) (-18.46,3.3) (-18.33,5) (-18.2,4) (-18.07,3) (-17.95,4.3) (-17.82,6) (-17.7,5) (-17.57,4.5) (-17.44,5.3) (-17.26,7) (-17.08,9.3) (-16.92,12) (-16.77,14.3) (-16.62,12.5) (-16.46,10) (-16.3,7.5) (-16.15,6) (-15.9,5) (-15.64,4.3) (-15.38,6) (-15.13,5.3) (-14.88,3.5) (-14.62,4.3) (-14.36,5.5) (-14.1,3.3) (-13.85,4) (-13.59,5.3) (-13.38,6) (-13.18,7.7) (-12.92,16) (-12.72,29.3) (-12.56,39.3) (-12.46,48) (-12.31,36) (-12.15,14.3) (-11.95,8) (-11.79,6) (-11.6,7) (-11.38,7.7) (-11.2,10) (-11.03,12.7) (-10.87,11) (-10.72,9.3) (-10.5,7.5) (-10.26,6) (-10,6.5) (-9.75,4.5) (-9.49,4.3) (-9.23,5.5) (-8.98,3.5) (-8.72,4.5) (-8.46,3.3) (-8.2,4.5) (-7.95,3.5) (-7.7,5.5) (-7.44,5.3) (-7.18,6.5) (-6.92,6) (-6.67,7.7) (-6.41,6.5) (-6.15,5) (-5.9,6) (-5.64,7) (-5.38,5) (-5.13,5.3) (-4.87,6.5) (-4.6,5) (-4.36,6.7) (-4.1,8) (-3.85,9.3) (-3.6,11) (-3.4,13) (-3.23,14.3) (-3.08,12.5) (-2.92,11) (-2.8,14) (-2.72,19.3) (-2.46,46) (-2.25,420) (-1.9,420) (-1.52,1) (-1.35,60) (-1,420) (0.95,420) (1.13,60) (1.38,3.3) (1.55,4.5) (1.74,4.3) (1.95,16) (2.15,29.3) (2.31,12) (2.56,6) (2.85,4.5) (3.18,3.3) (3.44,2) (3.69,3.5) (3.95,2) (4.21,2.7) (4.46,4.5) (4.72,3) (4.97,4.5) (5.23,4.3) (5.5,2.5) (5.75,4) (6,3) (6.26,3.3) (6.5,5) (6.77,4.5) (7.03,5.5) (7.28,6) (7.55,5) (7.8,6.5) (8.05,7.7) (8.3,6.5) (8.56,6) (8.82,7.5) (9.07,6.5) (9.33,7.7) (9.6,9) (9.85,10) (10.1,11) (10.35,14) (10.62,16) (10.8,16.5) (10.97,17.7) (11.18,16) (11.38,14.3) (11.6,11) (11.79,9.3) (12,11) (12.15,16) (12.41,36) (12.62,54.3) (12.82,45) (13.03,22.7) (13.18,11) (13.33,7.7) (13.5,6.5) (13.69,6) (13.95,5) (14.21,4.3) (14.45,5.5) (14.72,6) (15,7.5) (15.23,9.3) (15.4,7.5) (15.59,6) (15.85,6.5) (16.1,7.7) (16.3,9.5) (16.51,12) (16.7,9) (16.92,6) (17.2,5) (17.54,4.3) (17.8,3) (18.05,4) (18.3,3) (18.56,2.7) (18.8,1.5) (19.05,2.5) (19.3,1.5) (19.59,2) (19.85,1) (20.1,1.5) (20.36,1) (20.46,1)};
\node[inner sep=0pt, font=\fs{15}] at (axis cs:-5.92,313.5) {θ (deg)};
\node[inner sep=0pt, font=\fs{15}] at (axis cs:11.08,310) {\textit{k} (10\textsuperscript{5} rad/cm)};
\node[ang] at (axis cs:-2.62,278.5) {25°};
\node[ang] at (axis cs:-2.77,220) {20°};
\node[ang] at (axis cs:-3.08,165) {15°};
\node[ang] at (axis cs:-3.08,109) {10°};
\node[ang] at (axis cs:-3.08,56) {5°};
\node[ang] at (axis cs:-3.38,15) {0°};
\node[kv] at (axis cs:6.31,280) {0.97};
\node[kv] at (axis cs:6.31,218) {0.79};
\node[kv] at (axis cs:6.15,163.5) {0.6};
\node[kv] at (axis cs:5.85,108.5) {0.4};
\node[kv] at (axis cs:6.0,57) {0.2};
\node[kv] at (axis cs:5.54,17) {0};
\node[mdr] at (axis cs:-12.31,342) {1DE};
\node[mdr] at (axis cs:-17.95,282) {3DE};
\node[mdr] at (axis cs:-12.85,302) {F};
\node[mdr] at (axis cs:-9.85,292) {2BA};
\node[mdr] at (axis cs:-18.3,137) {2DE};
\end{axis}
\node[anchor=base, inner sep=0pt, font=\fs{17.5}] at (186,433.3) {MSBVW};
\node[anchor=base, inner sep=0pt, font=\fs{18}] at (525.5,430) {MSSW};
\node[anchor=base, inner sep=0pt, font=\fs{19.6}] at (178,11.7) {Frequency shift (GHz)};
\node[anchor=base, inner sep=0pt, font=\fs{19.6}] at (521.5,11.7) {Frequency shift (GHz)};
\node[anchor=base, rotate=90, inner sep=0pt, font=\fs{19.6}] at (31.7,230.5) {Intensity (arb. units)};
\node[anchor=base, rotate=90, inner sep=0pt, font=\fs{19.6}] at (384.5,231) {Intensity (arb. units)};
\end{tikzpicture}
\end{document}
